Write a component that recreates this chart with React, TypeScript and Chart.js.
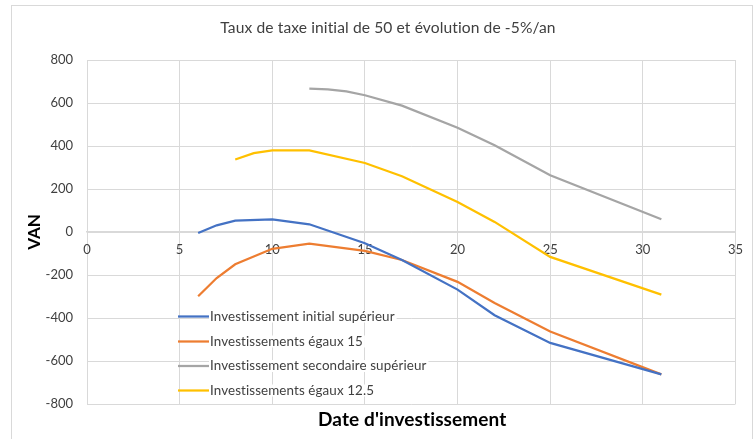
import React, { useEffect, useRef } from "react";
import { Chart, registerables } from "chart.js";

Chart.register(...registerables);

const TITLE = "Taux de taxe initial de 50 et évolution de -5%/an";
const X_TITLE = "Date d'investissement";
const Y_TITLE = "VAN";

const seriesNames = [
  "Investissement initial supérieur",
  "Investissements égaux 15",
  "Investissement secondaire supérieur",
  "Investissements égaux 12.5",
];
const seriesColors = ["#4472C4", "#ED7D31", "#A5A5A5", "#FFC000"];

const initialSupX = [6, 7, 8, 10, 12, 15, 17, 20, 22, 25, 31];
const initialSupY = [-5, 31, 53, 59, 36, -52, -130, -268, -387, -516, -662];

const egaux15X = [6, 7, 8, 10, 12, 15, 17, 20, 22, 25, 31];
const egaux15Y = [-299, -214, -150, -78, -54, -88, -130, -232, -330, -463, -662];

const secondaireSupX = [12, 13, 14, 15, 17, 20, 22, 25, 31];
const secondaireSupY = [667, 663, 654, 636, 588, 485, 403, 264, 59];

const egaux125X = [8, 9, 10, 12, 15, 17, 20, 22, 25, 31];
const egaux125Y = [337, 367, 380, 380, 321, 259, 140, 47, -116, -291];

const xMin = 0, xMax = 35, xStep = 5;
const yMin = -800, yMax = 800, yStep = 200;

const FONT = "Lato, 'Open Sans', sans-serif";

function toPoints(xs: number[], ys: number[]) {
  return xs.map((x, i) => ({ x, y: ys[i] }));
}

export default function App() {
  const ref = useRef<HTMLCanvasElement | null>(null);

  useEffect(() => {
    document.body.style.margin = "0";
    const canvas = ref.current;
    if (!canvas) return;

    const allX = [initialSupX, egaux15X, secondaireSupX, egaux125X];
    const allY = [initialSupY, egaux15Y, secondaireSupY, egaux125Y];

    const decor = {
      id: "decor",
      beforeDraw(chart: any) {
        const ctx = chart.ctx;
        ctx.save();
        ctx.fillStyle = "#ffffff";
        ctx.fillRect(0, 0, chart.width, chart.height);
        ctx.strokeStyle = "#d9d9d9";
        ctx.lineWidth = 1;
        ctx.strokeRect(11.5, 5.5, 741, 440);
        ctx.restore();
      },
      afterDraw(chart: any) {
        const ctx = chart.ctx;
        const area = chart.chartArea;
        ctx.save();
        try {
          (ctx as any).letterSpacing = "0.1px";
        } catch (e) {}
        // title
        ctx.fillStyle = "#404040";
        ctx.font = `15.6px ${FONT}`;
        ctx.textAlign = "center";
        ctx.textBaseline = "middle";
        ctx.fillText(TITLE, 388, 28);
        // x title
        ctx.fillStyle = "#000000";
        ctx.font = `bold 19px ${FONT}`;
        ctx.fillText(X_TITLE, (area.left + area.right) / 2 + 1, 420);
        // legend
        const rows = [316.5, 341.5, 366, 390.5];
        ctx.font = `13.4px ${FONT}`;
        ctx.textAlign = "left";
        chart.data.datasets.forEach((ds: any, i: number) => {
          const y = rows[i];
          const w = ctx.measureText(ds.label).width;
          ctx.fillStyle = "#ffffff";
          ctx.fillRect(209, y - 6, w + 3, 12);
          ctx.strokeStyle = ds.borderColor;
          ctx.lineWidth = 2.25;
          ctx.beginPath();
          ctx.moveTo(178, y);
          ctx.lineTo(209, y);
          ctx.stroke();
          ctx.fillStyle = "#404040";
          ctx.fillText(ds.label, 210, y);
        });
        ctx.restore();
      },
    };

    const chart = new Chart(canvas, {
      type: "scatter",
      data: {
        datasets: seriesNames.map((name, i) => ({
          label: name,
          data: toPoints(allX[i], allY[i]),
          showLine: true,
          borderColor: seriesColors[i],
          backgroundColor: seriesColors[i],
          borderWidth: 2.25,
          pointRadius: 0,
          pointHoverRadius: 0,
          tension: 0,
          fill: false,
        })),
      },
      options: {
        responsive: false,
        animation: false,
        devicePixelRatio: 1,
        layout: { padding: { left: 0, right: 10, top: 60, bottom: 35 } },
        plugins: {
          legend: { display: false },
          title: { display: false },
          tooltip: { enabled: false },
        },
        scales: {
          x: {
            type: "linear",
            position: { y: 0 } as any,
            min: xMin,
            max: xMax,
            grid: { color: "#d9d9d9", lineWidth: 1, drawTicks: false },
            border: { display: true, color: "#d9d9d9", width: 1.5 },
            ticks: {
              stepSize: xStep,
              padding: 10,
              color: "#404040",
              font: { family: FONT, size: 13 },
              maxRotation: 0,
              autoSkip: false,
            },
          },
          y: {
            type: "linear",
            position: "left",
            min: yMin,
            max: yMax,
            afterFit: (s: any) => {
              s.width = 87;
            },
            grid: { color: "#d9d9d9", lineWidth: 1, drawTicks: false },
            border: { display: false },
            ticks: {
              stepSize: yStep,
              padding: 14,
              color: "#404040",
              font: { family: FONT, size: 13 },
            },
            title: {
              display: true,
              text: Y_TITLE,
              color: "#000000",
              font: { family: FONT, size: 17, weight: "bold" },
              padding: { top: 24, bottom: 0 },
            },
          },
        },
      },
      plugins: [decor],
    });

    return () => chart.destroy();
  }, []);

  return (
    <div style={{ width: 753, height: 439 }}>
      <canvas ref={ref} width={753} height={439} />
    </div>
  );
}
